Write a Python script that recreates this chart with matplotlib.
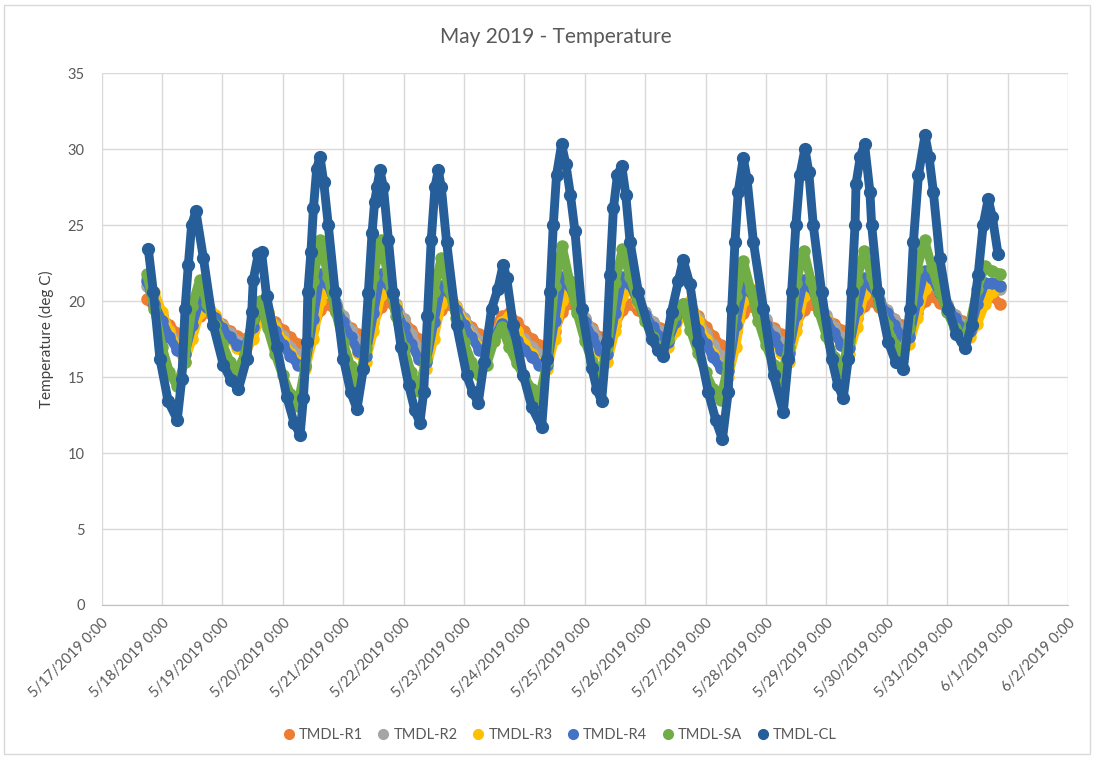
import numpy as np
import pandas as pd
import matplotlib
matplotlib.use('Agg')
import matplotlib.pyplot as plt
import matplotlib.dates as mdates
from matplotlib.lines import Line2D
from matplotlib.patches import Rectangle

plt.rcParams['font.family'] = ['Lato', 'DejaVu Sans']

# R1..SA: readings every 3 hours, first one 5/17/2019 18:00 (rows = one day, 0:00 .. 21:00)
start = '2019-05-17 18:00'

r1 = [20.1, 19.6,
      19.0, 18.4, 17.9, 17.5, 18.2, 19.0, 19.3, 18.9,
      18.5, 18.0, 17.7, 17.5, 18.0, 18.7, 19.0, 18.6,
      18.1, 17.6, 17.2, 17.0, 18.2, 19.4, 19.8, 19.3,
      18.8, 18.2, 17.8, 17.5, 18.6, 19.6, 20.0, 19.4,
      18.8, 18.1, 17.5, 17.2, 18.4, 19.4, 19.8, 19.3,
      18.8, 18.3, 17.8, 17.5, 18.3, 19.0, 19.2, 18.6,
      18.0, 17.5, 17.1, 16.8, 18.0, 19.3, 19.9, 19.4,
      18.8, 18.2, 17.6, 17.2, 18.4, 19.4, 19.8, 19.4,
      19.0, 18.6, 18.2, 18.0, 18.7, 19.3, 19.6, 19.0,
      18.3, 17.7, 17.1, 16.8, 18.0, 19.2, 19.7, 19.2,
      18.7, 18.2, 17.8, 17.5, 18.5, 19.4, 19.8, 19.4,
      18.9, 18.5, 18.1, 17.8, 18.9, 19.7, 20.0, 19.6,
      19.2, 18.8, 18.4, 18.2, 19.2, 20.0, 20.3, 19.9,
      19.5, 19.1, 18.7, 18.5, 19.3, 20.0, 20.3, 19.8]

r2 = [21.0, 20.0,
      19.0, 18.1, 17.3, 16.9, 18.3, 19.7, 19.7, 19.0,
      18.4, 17.9, 17.4, 17.2, 18.3, 19.3, 19.2, 18.4,
      17.7, 17.0, 16.5, 16.3, 18.5, 20.8, 21.0, 19.9,
      19.0, 18.1, 17.3, 16.9, 19.0, 21.0, 21.0, 19.8,
      18.8, 17.8, 16.9, 16.5, 18.5, 20.4, 20.6, 19.7,
      18.9, 18.1, 17.4, 17.1, 17.8, 18.6, 18.7, 18.0,
      17.5, 17.0, 16.5, 16.3, 18.5, 20.6, 20.8, 19.8,
      18.9, 18.1, 17.3, 16.9, 18.9, 20.7, 20.9, 20.0,
      19.3, 18.6, 18.0, 17.7, 18.7, 19.7, 19.9, 18.9,
      17.9, 17.1, 16.4, 16.1, 18.3, 20.5, 20.7, 19.7,
      18.8, 18.0, 17.3, 17.0, 19.0, 20.8, 20.9, 20.0,
      19.1, 18.3, 17.6, 17.3, 19.2, 20.8, 20.9, 20.1,
      19.4, 18.8, 18.1, 17.9, 19.8, 21.2, 21.3, 20.5,
      19.8, 19.1, 18.5, 18.3, 19.5, 20.7, 20.9, 20.8]

r3 = [21.5, 20.6,
      19.3, 18.0, 16.9, 16.0, 17.5, 19.2, 20.0, 19.1,
      18.3, 17.5, 16.9, 16.5, 17.5, 18.8, 19.3, 18.3,
      17.4, 16.6, 16.0, 15.5, 17.5, 20.0, 21.0, 19.7,
      18.5, 17.5, 16.6, 16.0, 18.0, 20.4, 21.2, 19.7,
      18.3, 17.2, 16.2, 15.5, 17.5, 19.8, 20.8, 19.6,
      18.6, 17.7, 17.0, 16.5, 17.4, 18.6, 19.0, 18.0,
      17.2, 16.5, 15.9, 15.5, 17.5, 20.0, 20.8, 19.5,
      18.4, 17.5, 16.6, 16.0, 18.0, 20.3, 21.0, 19.9,
      19.0, 18.2, 17.5, 17.0, 18.0, 19.5, 20.0, 18.7,
      17.5, 16.5, 15.6, 15.0, 17.0, 20.0, 20.8, 19.5,
      18.4, 17.5, 16.6, 16.0, 18.0, 20.3, 21.0, 19.8,
      18.8, 17.9, 17.1, 16.5, 18.3, 20.4, 21.0, 20.0,
      19.1, 18.4, 17.7, 17.2, 18.9, 20.8, 21.5, 20.5,
      19.6, 18.8, 18.1, 17.6, 18.5, 19.8, 20.6, 21.0]

r4 = [21.3, 19.8,
      18.7, 17.6, 16.8, 16.5, 18.4, 20.0, 19.6, 18.9,
      18.2, 17.6, 17.1, 17.0, 18.3, 19.5, 19.0, 18.0,
      17.1, 16.4, 15.8, 15.7, 18.8, 21.8, 21.1, 19.7,
      18.6, 17.6, 16.7, 16.4, 19.2, 21.8, 21.1, 19.5,
      18.3, 17.2, 16.2, 16.0, 18.6, 21.0, 20.6, 19.4,
      18.4, 17.6, 16.8, 16.6, 17.6, 18.5, 18.2, 17.4,
      16.8, 16.3, 15.8, 15.8, 18.7, 21.6, 21.0, 19.6,
      18.6, 17.6, 16.8, 16.5, 19.2, 21.6, 21.1, 20.0,
      19.1, 18.3, 17.6, 17.3, 18.6, 19.8, 19.2, 18.1,
      17.2, 16.3, 15.6, 15.4, 18.4, 21.1, 20.6, 19.4,
      18.4, 17.6, 16.8, 16.6, 19.1, 21.4, 20.9, 19.7,
      18.7, 17.9, 17.1, 16.9, 19.4, 21.5, 21.0, 20.0,
      19.2, 18.4, 17.7, 17.6, 20.0, 22.0, 21.5, 20.5,
      19.7, 18.9, 18.2, 18.0, 19.8, 21.2, 21.2, 21.0]

sa = [21.8, 19.5,
      17.0, 15.3, 14.4, 16.0, 19.7, 21.4, 19.8, 18.4,
      17.2, 16.0, 15.4, 16.5, 18.8, 20.0, 18.2, 16.5,
      15.1, 13.9, 13.1, 15.8, 21.3, 24.0, 21.6, 19.3,
      17.3, 15.7, 14.6, 16.9, 21.6, 24.0, 21.5, 19.0,
      17.0, 15.3, 14.1, 16.2, 20.6, 22.8, 20.8, 18.9,
      17.3, 16.0, 15.1, 15.8, 17.4, 18.3, 17.0, 15.9,
      15.0, 14.2, 13.6, 16.0, 21.0, 23.6, 21.3, 19.2,
      17.4, 16.0, 14.9, 17.0, 21.2, 23.4, 21.6, 20.0,
      18.7, 17.6, 16.8, 17.5, 19.1, 19.8, 18.1, 16.6,
      15.3, 14.2, 13.5, 15.8, 20.3, 22.6, 20.7, 18.7,
      17.1, 15.8, 14.9, 17.0, 21.2, 23.3, 21.3, 19.3,
      17.7, 16.3, 15.4, 17.4, 21.3, 23.3, 21.6, 19.8,
      18.4, 17.2, 16.4, 18.2, 22.1, 24.0, 22.2, 20.6,
      19.3, 18.2, 17.4, 18.5, 20.8, 22.3, 22.0, 21.8]

# CL: points (hours after 5/17/2019 0:00, deg C)
cl_hours = [18.6, 20.6, 23.2, 26.5, 30.1, 31.9, 33.2, 34.5, 35.8, 37.5,
            40.5, 44.4, 48.4, 51.5, 54.4, 57.7, 59.7, 60.3, 62.3, 63.6,
            65.6, 69.6, 73.6, 76.5, 78.9, 80.2, 81.5, 82.0, 83.2, 84.2,
            85.5, 86.8, 88.3, 90.1, 92.8, 96.1, 99.0, 101.5,
            104.0, 106.0, 107.5, 108.5, 109.5, 110.6, 112.0, 114.0, 116.0, 119.0,
            122.0, 124.5, 126.5,
            128.0, 129.5, 131.0, 132.5, 133.8, 135.0, 137.1, 141.1, 145.1, 147.5, 149.7,
            152.0, 155.0, 157.5, 159.6, 161.0, 163.6, 167.6, 171.0, 174.9,
            176.9, 178.2, 179.5, 180.8, 182.8, 184.5, 186.3, 188.1, 190.8, 194.8, 196.8, 198.7,
            200.7, 202.0, 203.4, 205.0, 206.7, 208.3, 210.0, 213.3, 218.6, 221.0, 223.2,
            226.5, 229.2, 231.1, 233.8, 237.1, 241.1, 244.0, 246.7,
            249.0, 250.4, 251.7, 253.0, 255.0, 256.5, 259.0, 263.0, 267.0, 270.9,
            272.9, 274.2, 275.9, 277.5, 279.5, 281.0, 282.8, 286.1, 290.1, 292.5, 294.7,
            296.7, 298.0, 299.4, 299.8, 301.5, 303.2, 305.3, 306.0, 308.6, 312.6, 315.5, 318.6,
            321.2, 322.6, 324.6, 327.2, 328.8, 330.5, 333.1, 336.4, 339.7, 343.1,
            345.7, 348.3, 350.3, 352.3, 354.0, 356.2]
cl = [23.4, 20.6, 16.2, 13.4, 12.2, 14.9, 19.5, 22.4, 25.0, 25.9,
      22.8, 18.4, 15.8, 14.8, 14.2, 16.2, 19.3, 21.4, 23.1, 23.2,
      20.3, 17.0, 13.7, 12.0, 11.2, 13.6, 17.3, 20.6, 23.2, 26.1,
      28.7, 29.5, 27.8, 25.0, 20.6, 16.2, 14.0, 12.9,
      15.5, 20.5, 24.5, 26.5, 27.5, 28.6, 27.5, 24.0, 20.5, 17.0,
      14.5, 12.8, 12.0,
      14.0, 19.0, 24.0, 27.5, 28.6, 27.5, 23.9, 18.4, 15.1, 14.0, 13.3,
      16.0, 19.5, 20.8, 22.4, 21.5, 18.4, 15.1, 13.0, 11.7,
      16.2, 20.6, 25.0, 28.3, 30.3, 29.0, 27.0, 24.6, 19.5, 15.6, 14.2, 13.4,
      17.3, 21.7, 26.1, 28.3, 28.9, 27.0, 23.9, 20.6, 17.5, 16.8, 16.4,
      19.3, 21.3, 22.7, 21.1, 17.3, 14.0, 12.2, 10.9,
      14.0, 19.5, 23.9, 27.2, 29.4, 28.0, 23.9, 19.5, 15.1, 12.7,
      16.2, 20.6, 25.0, 28.3, 30.0, 28.5, 25.0, 20.6, 16.2, 14.5, 13.6,
      16.2, 20.6, 25.0, 27.7, 29.5, 30.3, 27.2, 25.0, 20.6, 17.3, 16.0, 15.5,
      19.5, 23.9, 28.3, 30.9, 29.5, 27.2, 22.8, 19.5, 17.8, 16.9,
      18.4, 21.7, 25.0, 26.7, 25.5, 23.1]

names = ['TMDL-R1', 'TMDL-R2', 'TMDL-R3', 'TMDL-R4', 'TMDL-SA', 'TMDL-CL']
colors = ['#ED7D31', '#A5A5A5', '#FFC000', '#4472C4', '#70AD47', '#255E99']
series = [r1, r2, r3, r4, sa]

fig = plt.figure(figsize=(10.94, 7.59), dpi=100)
ax = fig.add_axes([0.0928, 0.2029, 0.8834, 0.7009])

for vals, c, n in zip(series, colors, names):
    t = pd.date_range(start, periods=len(vals), freq='3h')
    ax.plot(t, vals, color=c, lw=6.6, marker='o', ms=8,
            solid_joinstyle='round', solid_capstyle='round', label=n)

t_cl = pd.Timestamp('2019-05-17') + pd.to_timedelta(cl_hours, unit='h')
ax.plot(t_cl, cl, color=colors[5], lw=6.4, marker='o', ms=8.5,
        solid_joinstyle='round', solid_capstyle='round', label=names[5])

ax.set_xlim(pd.Timestamp('2019-05-17'), pd.Timestamp('2019-06-02'))
ax.set_ylim(0, 35)
ax.set_yticks(np.arange(0, 36, 5))
ax.xaxis.set_major_locator(mdates.DayLocator())

def fmt(x, pos):
    d = mdates.num2date(x)
    return f'{d.month}/{d.day}/{d.year} 0:00'

ax.xaxis.set_major_formatter(plt.FuncFormatter(fmt))
for lab in ax.get_xticklabels():
    lab.set_rotation(45)
    lab.set_ha('right')
    lab.set_rotation_mode('anchor')

ax.tick_params(axis='both', length=0, colors='#595959', labelsize=10.5)
ax.tick_params(axis='x', pad=8)
ax.tick_params(axis='y', pad=12)
ax.grid(True, color='#D9D9D9', lw=1)
ax.set_axisbelow(True)
for s in ['top', 'right', 'left']:
    ax.spines[s].set_visible(False)
ax.spines['bottom'].set_color('#BFBFBF')

ax.set_ylabel('Temperature (deg C)', fontsize=11, color='#404040', labelpad=10)
fig.text(0.508, 0.951, 'May 2019 - Temperature', ha='center', va='center',
         fontsize=15, color='#595959')

handles = [Line2D([], [], ls='none', marker='o', ms=7, color=c) for c in colors]
fig.legend(handles, names, loc='center', bbox_to_anchor=(0.511, 0.032), ncol=6,
           frameon=False, fontsize=10.5, labelcolor='#595959', handletextpad=0.2,
           columnspacing=0.9, handlelength=1.0)

fig.patches.append(Rectangle((0.004, 0.006), 0.992, 0.988, transform=fig.transFigure,
                             fill=False, ec='#D9D9D9', lw=1))

fig.savefig('out.png', dpi=100)
